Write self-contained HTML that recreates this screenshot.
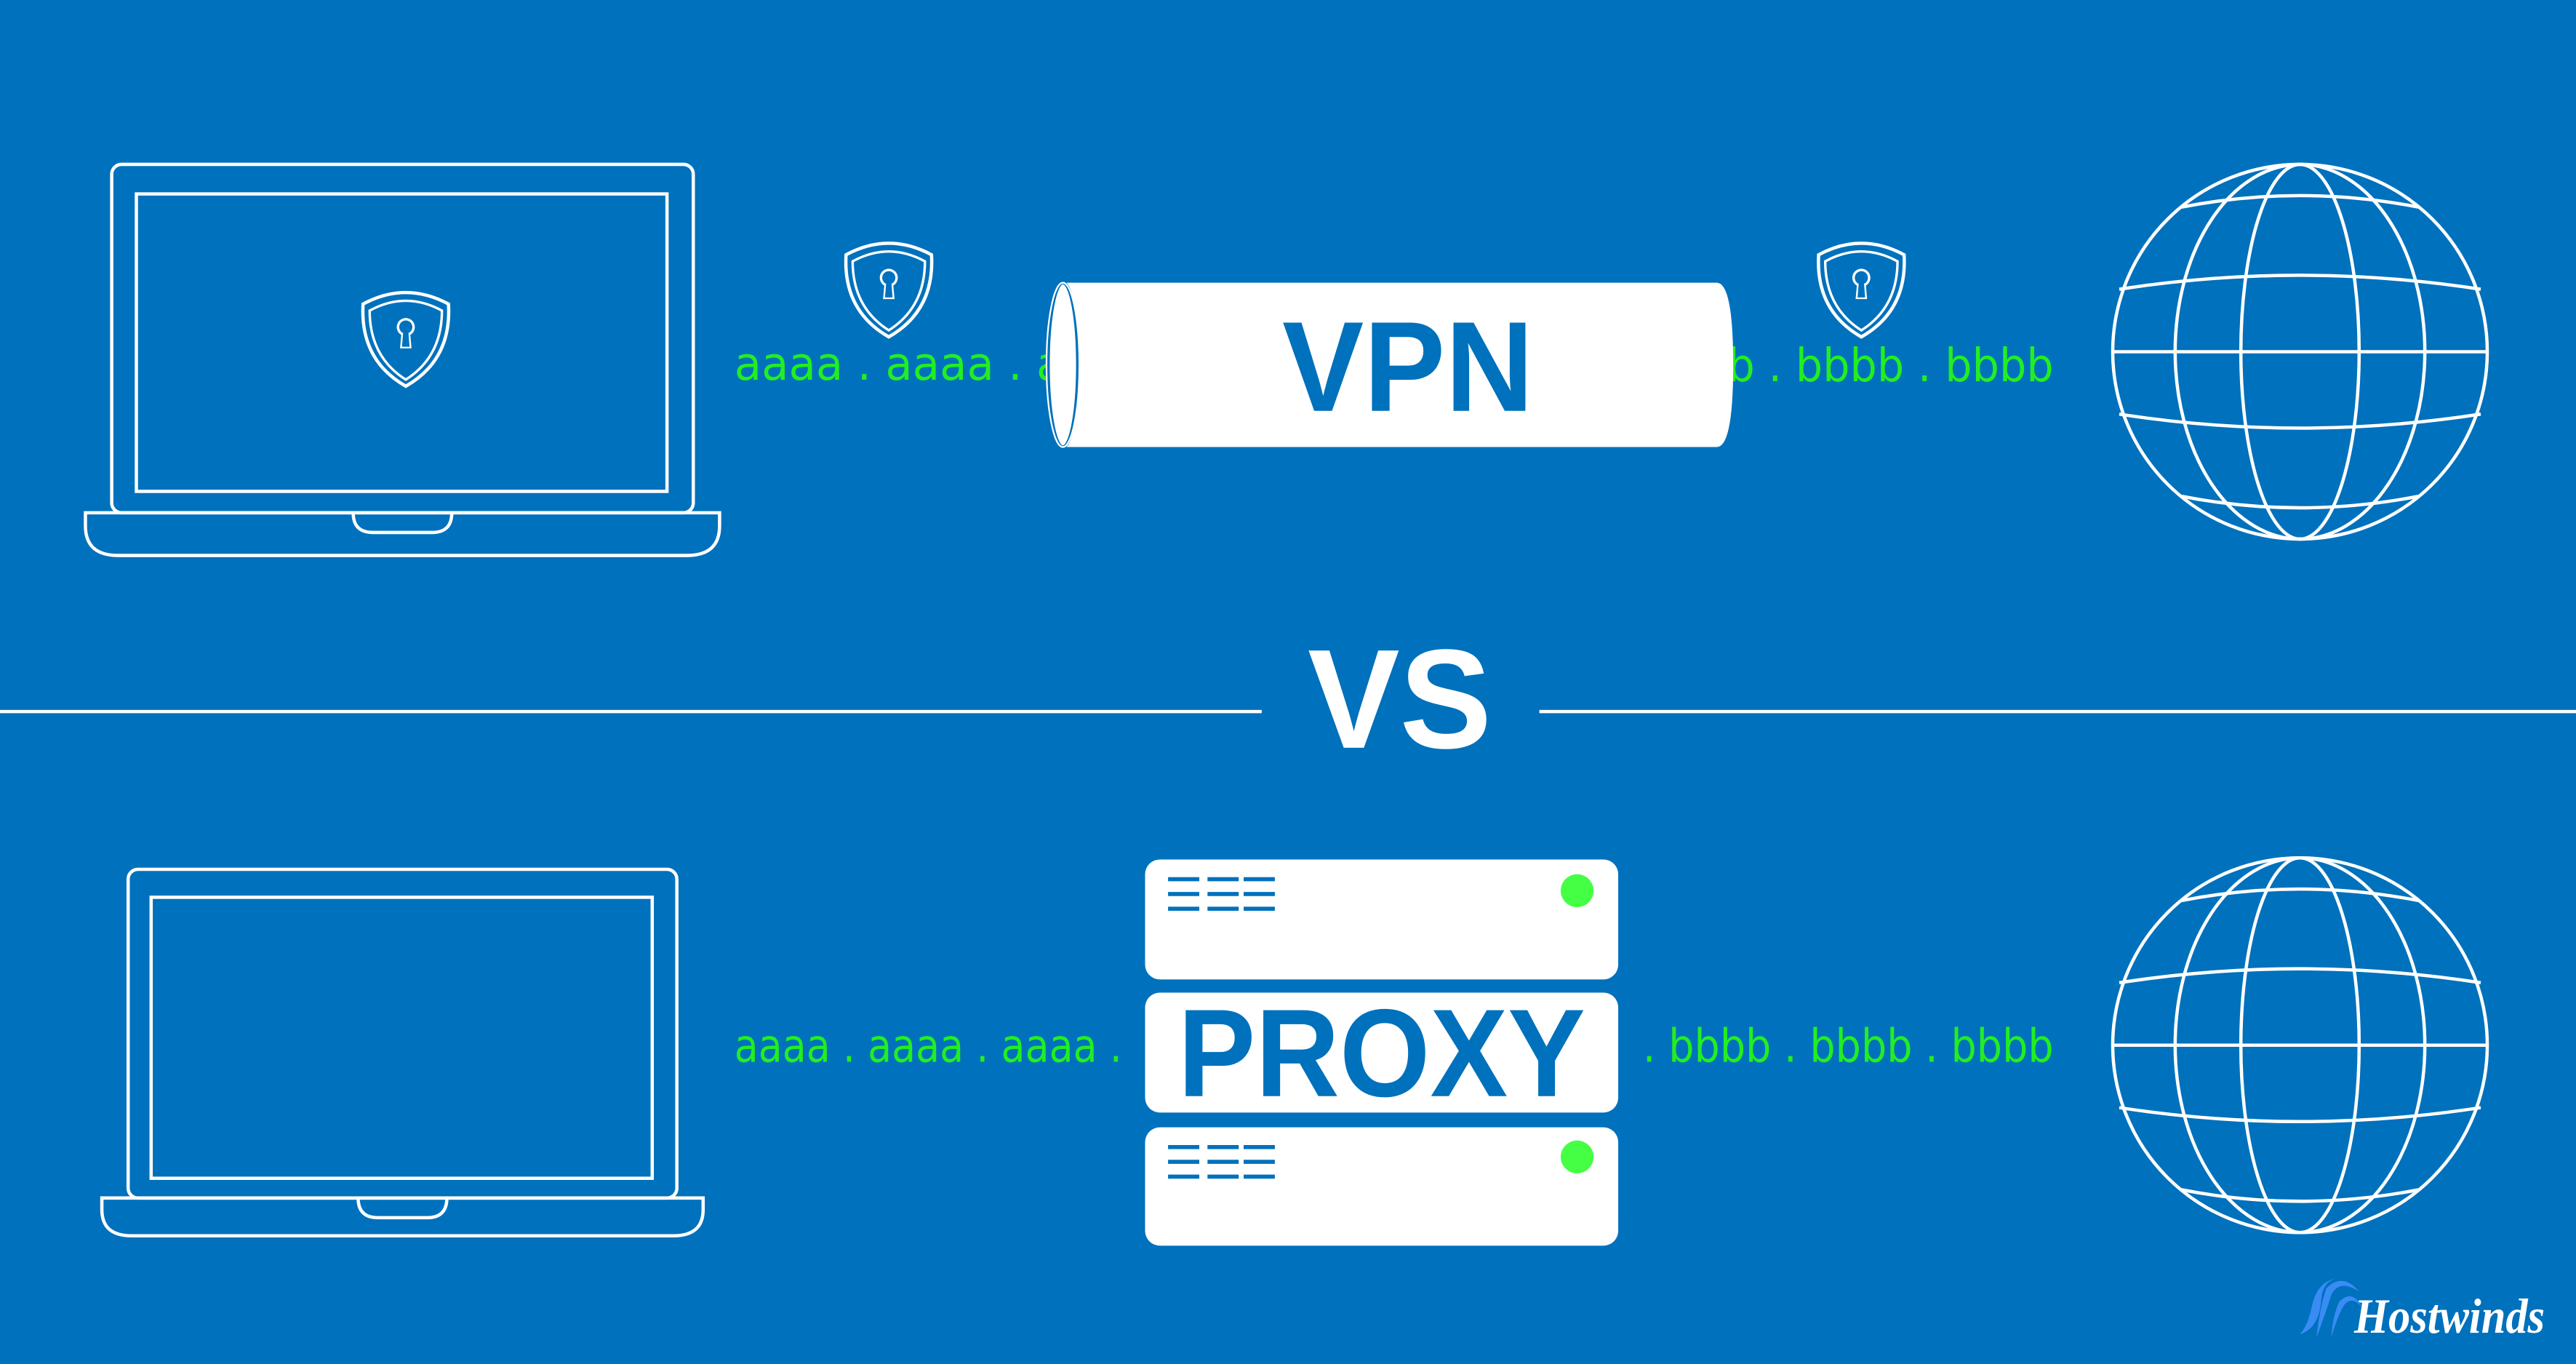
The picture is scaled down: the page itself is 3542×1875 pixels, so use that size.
<!DOCTYPE html>
<html><head><meta charset="utf-8"><style>
html,body{margin:0;padding:0;background:#0071bc;}
svg{display:block}
</style></head><body>
<svg width="3542" height="1875" viewBox="0 0 1568 830" xmlns="http://www.w3.org/2000/svg">
<defs>
<g id="shield">
<path d="M-26,-22 Q0,-36 26,-22 Q28,12 0,28 Q-28,12 -26,-22Z" fill="none" stroke="#fff" stroke-width="2"/>
<path d="M-22,-18 Q0,-30 22,-18 Q22,10 0,24 Q-22,10 -22,-18Z" fill="none" stroke="#fff" stroke-width="1.5"/>
<circle cx="0" cy="-8" r="5.5" fill="#fff"/>
<path d="M-2.5,-6 L-3.5,5 L3.5,5 L2.5,-6Z" fill="#fff"/>
<circle cx="0" cy="-8" r="4" fill="#0071bc"/>
<path d="M-1.5,-6 L-2.3,4 L2.3,4 L1.5,-6Z" fill="#0071bc"/>
</g>
<g id="globe" fill="none" stroke="#fff" stroke-width="2">
<circle r="114"/>
<ellipse rx="76" ry="114"/>
<ellipse rx="36" ry="114"/>
<line x1="-114" y1="0" x2="114" y2="0"/>
<path d="M-110,-38 Q0,-55 110,-38"/>
<path d="M-110,38 Q0,55 110,38"/>
<path d="M-72,-88 Q0,-102 72,-88"/>
<path d="M-72,88 Q0,102 72,88"/>
</g>
</defs>
<rect width="1568" height="830" fill="#0071bc"/>
<g fill="none" stroke="#fff" stroke-width="2">
<rect x="68" y="100" width="354" height="212" rx="6"/>
<rect x="83" y="118" width="323" height="181"/>
<path d="M52,312 H438 V320 Q438,338 418,338 H72 Q52,338 52,320Z"/>
<path d="M215,312 Q215,324 227,324 H263 Q275,324 275,312"/>
<rect x="78" y="529" width="334" height="200" rx="6"/>
<rect x="92" y="546" width="305" height="171"/>
<path d="M62,729 H428 V736 Q428,752 410,752 H80 Q62,752 62,736Z"/>
<path d="M218,729 Q218,741 230,741 H260 Q272,741 272,729"/>
</g>
<use href="#shield" x="247" y="207"/>
<use href="#shield" x="541" y="177"/>
<use href="#shield" x="1133" y="177"/>
<text x="447" y="231" font-family="DejaVu Sans, sans-serif" font-size="28" fill="#22ee22" textLength="250" lengthAdjust="spacingAndGlyphs">aaaa . aaaa . aaaa</text>
<text x="1002" y="232" font-family="DejaVu Sans, sans-serif" font-size="28" fill="#22ee22" textLength="248" lengthAdjust="spacingAndGlyphs">bbbb . bbbb . bbbb</text>
<path d="M647,172 H1045 Q1055,172 1055,222 Q1055,272 1045,272 H647 Z" fill="#fff"/>
<ellipse cx="647" cy="222" rx="9" ry="50" fill="#fff" stroke="#0071bc" stroke-width="2"/>
<ellipse cx="647" cy="222" rx="10" ry="50" fill="none" stroke="#fff" stroke-width="1"/>
<text x="857" y="250" text-anchor="middle" font-family="Liberation Sans, sans-serif" font-weight="bold" font-size="78" fill="#0071bc" textLength="153" lengthAdjust="spacingAndGlyphs">VPN</text>
<use href="#globe" x="1400" y="214"/>
<use href="#globe" x="1400" y="636"/>
<line x1="0" y1="433" x2="768" y2="433" stroke="#fff" stroke-width="2"/>
<line x1="937" y1="433" x2="1568" y2="433" stroke="#fff" stroke-width="2"/>
<text x="852" y="455" text-anchor="middle" font-family="Liberation Sans, sans-serif" font-weight="bold" font-size="86" fill="#fff" textLength="112" lengthAdjust="spacingAndGlyphs">VS</text>
<g fill="#fff">
<rect x="697" y="523" width="288" height="73" rx="9"/>
<rect x="697" y="604" width="288" height="73" rx="9"/>
<rect x="697" y="686" width="288" height="72" rx="9"/>
</g>
<g stroke="#0071bc" stroke-width="2.5">
<path d="M711,535 H730 M735,535 H754 M757,535 H776 M711,544 H730 M735,544 H754 M757,544 H776 M711,553 H730 M735,553 H754 M757,553 H776"/>
<path d="M711,698 H730 M735,698 H754 M757,698 H776 M711,707 H730 M735,707 H754 M757,707 H776 M711,716 H730 M735,716 H754 M757,716 H776"/>
</g>
<circle cx="960" cy="542" r="10" fill="#44ff44"/>
<circle cx="960" cy="704" r="10" fill="#44ff44"/>
<text x="841" y="667" text-anchor="middle" font-family="Liberation Sans, sans-serif" font-weight="bold" font-size="76" fill="#0071bc" textLength="248" lengthAdjust="spacingAndGlyphs">PROXY</text>
<text x="447" y="646" font-family="DejaVu Sans, sans-serif" font-size="28" fill="#22ee22" textLength="236" lengthAdjust="spacingAndGlyphs">aaaa . aaaa . aaaa .</text>
<text x="1000" y="646" font-family="DejaVu Sans, sans-serif" font-size="28" fill="#22ee22" textLength="250" lengthAdjust="spacingAndGlyphs">. bbbb . bbbb . bbbb</text>
<g fill="#3a8cf5">
<path d="M1400,812 Q1412,808 1413,790 Q1414,780 1422,778 Q1410,780 1407,796 Q1405,806 1400,812Z"/>
<path d="M1410,814 Q1416,798 1419,788 Q1424,778 1436,786 Q1426,774 1416,784 Q1412,796 1410,814Z"/>
<path d="M1419,814 Q1423,800 1427,794 Q1432,788 1438,796 Q1432,784 1424,792 Q1420,800 1419,814Z"/>
</g>
<text x="1433" y="811" font-family="Liberation Serif, serif" font-style="italic" font-weight="bold" font-size="30" fill="#fff" textLength="116" lengthAdjust="spacingAndGlyphs">Hostwinds</text>
</svg>
</body></html>
